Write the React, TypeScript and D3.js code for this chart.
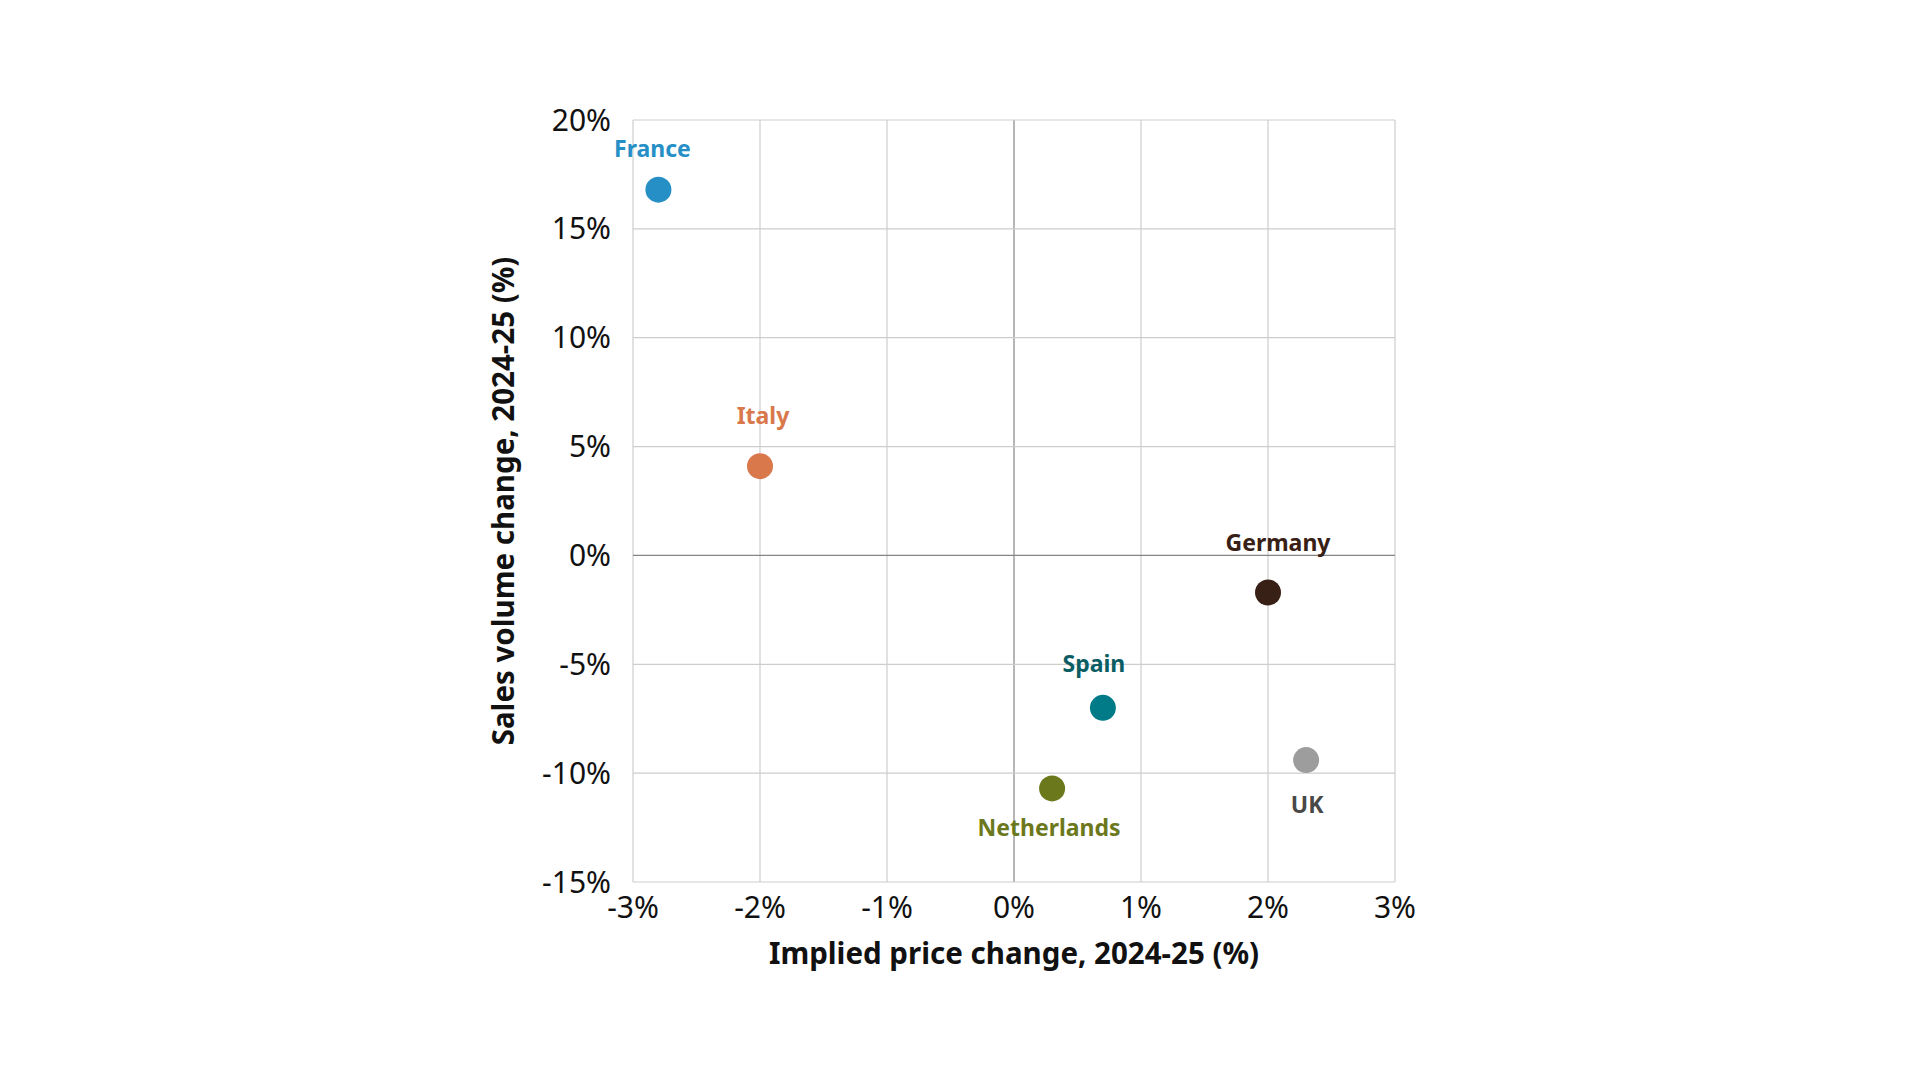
import * as d3 from 'd3';
import React, { useEffect, useRef } from 'react';

interface Country {
  name: string;
  price: number;
  volume: number;
}

const countries: string[] = ['France', 'Italy', 'Germany', 'Spain', 'UK', 'Netherlands'];
const priceChange: number[] = [-2.8, -2.0, 2.0, 0.7, 2.3, 0.3];
const volumeChange: number[] = [16.8, 4.1, -1.7, -7.0, -9.4, -10.7];

const dotColors: string[] = ['#258fc6', '#d8784b', '#382016', '#007b87', '#9d9d9d', '#6c781c'];
const labelColors: string[] = ['#258fc6', '#d8784b', '#382016', '#0b5d64', '#484848', '#6c781c'];
// label offset from the dot centre [dx, dy to baseline]
const labelOffsets: [number, number][] = [
  [-6, -33],
  [3, -42],
  [10, -41],
  [-9, -36],
  [1, 53],
  [-3, 48],
];

const xTicks: number[] = [-3, -2, -1, 0, 1, 2, 3];
const yTicks: number[] = [20, 15, 10, 5, 0, -5, -10, -15];

const width = 1920;
const height = 1080;
const plot = { left: 633, right: 1395, top: 120, bottom: 882 };
const font = '"Noto Sans", "Open Sans", sans-serif';

const data: Country[] = countries.map((name, i) => ({
  name,
  price: priceChange[i],
  volume: volumeChange[i],
}));

const ScatterChart: React.FC = () => {
  const ref = useRef<SVGSVGElement>(null);

  useEffect(() => {
    if (!ref.current) {
      return;
    }
    document.body.style.margin = '0';
    const svg = d3.select(ref.current);
    svg.selectAll('*').remove();

    const x = d3.scaleLinear().domain([-3, 3]).range([plot.left, plot.right]);
    const y = d3.scaleLinear().domain([-15, 20]).range([plot.bottom, plot.top]);

    svg.append('rect').attr('width', width).attr('height', height).attr('fill', '#ffffff');

    const grid = svg.append('g');
    grid
      .selectAll('line.vx')
      .data(xTicks)
      .join('line')
      .attr('class', 'vx')
      .attr('x1', (d) => x(d))
      .attr('x2', (d) => x(d))
      .attr('y1', plot.top)
      .attr('y2', plot.bottom)
      .attr('stroke', (d) => (d === 0 ? '#858585' : '#cdcdcd'))
      .attr('stroke-width', 1.2);
    grid
      .selectAll('line.hy')
      .data(yTicks)
      .join('line')
      .attr('class', 'hy')
      .attr('x1', plot.left)
      .attr('x2', plot.right)
      .attr('y1', (d) => y(d))
      .attr('y2', (d) => y(d))
      .attr('stroke', (d) => (d === 0 ? '#858585' : '#cdcdcd'))
      .attr('stroke-width', 1.2);

    // tick labels
    svg
      .append('g')
      .selectAll('text')
      .data(yTicks)
      .join('text')
      .attr('x', plot.left - 22)
      .attr('y', (d) => y(d))
      .attr('dy', '0.35em')
      .attr('text-anchor', 'end')
      .style('font-family', font)
      .style('font-size', '30px')
      .style('fill', '#111')
      .text((d) => `${d}%`);

    svg
      .append('g')
      .selectAll('text')
      .data(xTicks)
      .join('text')
      .attr('x', (d) => x(d))
      .attr('y', plot.bottom + 36)
      .attr('text-anchor', 'middle')
      .style('font-family', font)
      .style('font-size', '30px')
      .style('fill', '#111')
      .text((d) => `${d}%`);

    // axis titles
    svg
      .append('text')
      .attr('x', (plot.left + plot.right) / 2)
      .attr('y', 964)
      .attr('text-anchor', 'middle')
      .style('font-family', font)
      .style('font-size', '29.5px')
      .style('font-weight', 700)
      .style('fill', '#111')
      .text('Implied price change, 2024-25 (%)');

    svg
      .append('text')
      .attr('transform', `translate(514,${(plot.top + plot.bottom) / 2}) rotate(-90)`)
      .attr('text-anchor', 'middle')
      .style('font-family', font)
      .style('font-size', '29.5px')
      .style('font-weight', 700)
      .style('fill', '#111')
      .text('Sales volume change, 2024-25 (%)');

    // dots and labels
    const pts = svg.append('g');
    pts
      .selectAll('circle')
      .data(data)
      .join('circle')
      .attr('cx', (d) => x(d.price))
      .attr('cy', (d) => y(d.volume))
      .attr('r', 13)
      .attr('fill', (_, i) => dotColors[i]);

    pts
      .selectAll('text')
      .data(data)
      .join('text')
      .attr('x', (d, i) => x(d.price) + labelOffsets[i][0])
      .attr('y', (d, i) => y(d.volume) + labelOffsets[i][1])
      .attr('text-anchor', 'middle')
      .style('font-family', font)
      .style('font-size', '23px')
      .style('font-weight', 700)
      .style('fill', (_, i) => labelColors[i])
      .text((d) => d.name);
  }, []);

  return (
    <svg
      ref={ref}
      width={width}
      height={height}
      viewBox={`0 0 ${width} ${height}`}
      style={{ display: 'block' }}
    ></svg>
  );
};

export default function App() {
  return <ScatterChart />;
}
